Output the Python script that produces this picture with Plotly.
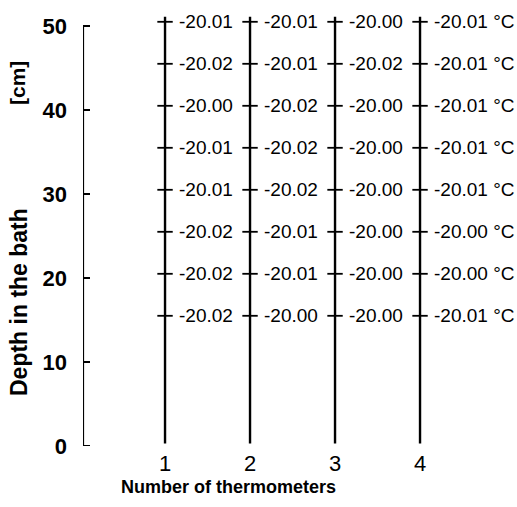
import plotly.graph_objects as go

# Data
thermometers = [1, 2, 3, 4]
depths = [50.5, 45.5, 40.5, 35.5, 30.5, 25.5, 20.5, 15.5]  # cm (sensor positions)
temps_1 = [-20.01, -20.02, -20.00, -20.01, -20.01, -20.02, -20.02, -20.02]
temps_2 = [-20.01, -20.01, -20.02, -20.02, -20.02, -20.01, -20.01, -20.00]
temps_3 = [-20.00, -20.02, -20.00, -20.00, -20.00, -20.00, -20.00, -20.00]
temps_4 = [-20.01, -20.01, -20.01, -20.01, -20.01, -20.00, -20.00, -20.01]
y_ticks = [0, 10, 20, 30, 40, 50]
x_ticks = ["1", "2", "3", "4"]
unit = "°C"

all_temps = [temps_1, temps_2, temps_3, temps_4]
FONT = "Liberation Sans, Arial, sans-serif"
NARROW = "Liberation Sans Narrow, Liberation Sans, Arial, sans-serif"

L, T, W, H = 83, 10, 434, 436
X0 = 0.035
PXX = 85.0
PXY = 8.4

fig = go.Figure()

# y axis line from 0 to 50
fig.add_trace(go.Scatter(x=[X0, X0], y=[0, 50], mode="lines",
                         line=dict(color="black", width=2.2), hoverinfo="skip",
                         showlegend=False))
for t in y_ticks:
    fig.add_trace(go.Scatter(x=[X0, X0 + 7 / PXX], y=[t, t], mode="lines",
                             line=dict(color="black", width=2), hoverinfo="skip",
                             showlegend=False))

for i, th in enumerate(thermometers):
    fig.add_trace(go.Scatter(x=[th, th], y=[0.3, 51.1], mode="lines",
                             line=dict(color="black", width=2.4),
                             hoverinfo="skip", showlegend=False))
    fig.add_trace(go.Scatter(x=[th] * len(depths), y=depths, mode="markers",
                             marker=dict(symbol="line-ew", size=11,
                                         line=dict(color="black", width=1.8)),
                             hoverinfo="skip", showlegend=False))
    for d, v in zip(depths, all_temps[i]):
        txt = f"{v:.2f}"
        if i == len(thermometers) - 1:
            txt += " " + unit
        fig.add_annotation(x=th, y=d, text=txt, showarrow=False,
                           xanchor="left", yanchor="middle", xshift=12,
                           font=dict(family=FONT, size=19, color="black"))

fig.add_annotation(xref="paper", yref="paper", x=(19 - L) / W, y=(446 - 302) / H,
                   text="<b>Depth in the bath</b>", textangle=-90, showarrow=False,
                   xanchor="center", yanchor="middle",
                   font=dict(family=FONT, size=23, color="black"))
fig.add_annotation(xref="paper", yref="paper", x=(17 - L) / W, y=(446 - 83) / H,
                   text="<b>[cm]</b>", textangle=-90, showarrow=False,
                   xanchor="center", yanchor="middle",
                   font=dict(family=FONT, size=21, color="black"))
fig.add_annotation(xref="paper", yref="paper", x=(228 - L) / W, y=-(487 - 446) / H,
                   text="<b>Number of thermometers</b>", showarrow=False,
                   xanchor="center", yanchor="middle",
                   font=dict(family=FONT, size=18, color="black"))

fig.update_layout(
    width=517, height=507,
    margin=dict(l=L, r=517 - L - W, t=T, b=507 - T - H),
    paper_bgcolor="white", plot_bgcolor="white",
    xaxis=dict(range=[X0, X0 + W / PXX], tickvals=thermometers, ticktext=x_ticks,
               showgrid=False, zeroline=False, showline=False, ticks="",
               tickfont=dict(family=NARROW, size=22, color="black"),
               ticklabelstandoff=2),
    yaxis=dict(range=[0, H / PXY], tickvals=y_ticks, showgrid=False, zeroline=False,
               showline=False, ticks="",
               tickfont=dict(family=FONT, size=22, color="black",
                             weight="bold"),
               ticklabelstandoff=15),
)

fig.write_html("out.html")
